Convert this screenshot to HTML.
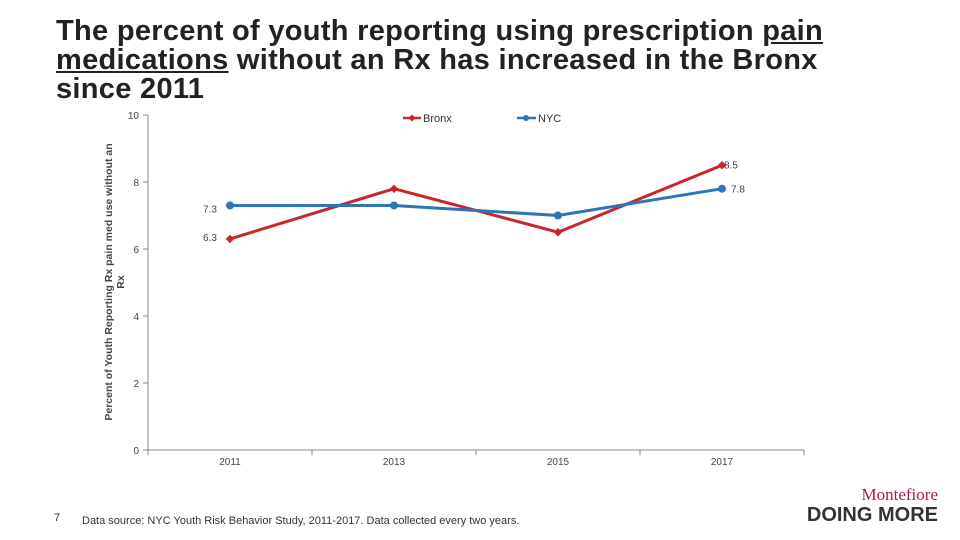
<!DOCTYPE html>
<html><head><meta charset="utf-8"><style>
body{margin:0;width:960px;height:540px;background:#fff;overflow:hidden;font-family:"Liberation Sans",sans-serif;position:relative}
#title{position:absolute;left:56px;top:17px;font-size:29px;line-height:29px;font-weight:bold;color:#222;margin:0;width:800px;letter-spacing:0.3px}
#title u{text-decoration:underline}
.abs{position:absolute}
</style></head><body>
<h1 id="title">The percent of youth reporting using prescription <u>pain medications</u> without an Rx has increased in the Bronx since 2011</h1>
<svg class="abs" style="left:0;top:0" width="960" height="540">
<g id="axes"></g>
<g id="marks"></g>
<text transform="translate(112,282) rotate(-90)" text-anchor="middle" font-size="10.5" font-weight="bold" fill="#444">Percent of Youth Reporting Rx pain med use without an</text>
<text transform="translate(124,282) rotate(-90)" text-anchor="middle" font-size="10.5" font-weight="bold" fill="#444">Rx</text>
<g><line x1="403" y1="118" x2="421" y2="118" stroke="#c8282d" stroke-width="2.5"/><rect x="409.5" y="115.5" width="5" height="5" fill="#c8282d" transform="rotate(45 412 118)"/><text x="423" y="122" font-size="11" fill="#333">Bronx</text></g>
<g><line x1="517" y1="118" x2="536" y2="118" stroke="#2e75b6" stroke-width="2.5"/><circle cx="526" cy="118" r="3" fill="#2e75b6"/><text x="538" y="122" font-size="11" fill="#333">NYC</text></g>
<text x="54" y="521" font-size="11" fill="#333">7</text>
<text x="82" y="524" font-size="11" fill="#333">Data source: NYC Youth Risk Behavior Study, 2011-2017. Data collected every two years.</text>
<text x="938" y="500" text-anchor="end" font-family="Liberation Serif,serif" font-size="17" fill="#b0185a">Montefiore</text>
<text x="938" y="521" text-anchor="end" font-size="20" font-weight="bold" fill="#333">DOING MORE</text>
</svg>
<script>
const categories=["2011","2013","2015","2017"];
const bronx=[6.3,7.8,6.5,8.5];
const nyc=[7.3,7.3,7.0,7.8];
const yTicks=[0,2,4,6,8,10];
const NS="http://www.w3.org/2000/svg";
const x=i=>230+i*164;
const y=v=>450-v*33.5;
function mk(t,a,p){const e=document.createElementNS(NS,t);for(const k in a)e.setAttribute(k,a[k]);p.appendChild(e);return e;}
const ax=document.getElementById('axes'),mg=document.getElementById('marks');
const yl=mk('line',{x1:148,y1:y(10),x2:148,y2:y(0),stroke:'#888'},ax);


const xl=mk('line',{x1:148,y1:y(0),x2:804,y2:y(0),stroke:'#888'},ax);


yTicks.forEach(t=>{
 mk('line',{x1:143,y1:y(t),x2:148,y2:y(t),stroke:'#888'},ax);
 const tx=mk('text',{x:139,y:y(t)+4,'text-anchor':'end','font-size':10,fill:'#444'},ax);tx.textContent=t;
 
 
});
categories.forEach((c,i)=>{
 mk('line',{x1:148+i*164,y1:450,x2:148+i*164,y2:455,stroke:'#888'},ax);
 const tx=mk('text',{x:x(i),y:465,'text-anchor':'middle','font-size':10,fill:'#444'},ax);tx.textContent=c;
 
 
});
mk('line',{x1:804,y1:450,x2:804,y2:455,stroke:'#888'},ax);
function series(vals,col,name,marker){
 const pl=mk('polyline',{points:vals.map((v,i)=>x(i)+','+y(v)).join(' '),fill:'none',stroke:col,'stroke-width':3},mg);
 
 
 vals.forEach((v,i)=>{
  let m;
  if(marker==='d'){m=mk('rect',{x:x(i)-3,y:y(v)-3,width:6,height:6,fill:col,transform:`rotate(45 ${x(i)} ${y(v)})`},mg);}
  else m=mk('circle',{cx:x(i),cy:y(v),r:4,fill:col},mg);
  
  
 });
}
series(bronx,'#c8282d','bronx','d');
series(nyc,'#2e75b6','nyc','c');
function lbl(v,i,dx,dy){const t=mk('text',{x:x(i)+dx,y:y(v)+dy,'font-size':10,fill:'#444'},mg);t.textContent=v.toFixed(1);
 
 }
lbl(bronx[0],0,-27,2);lbl(nyc[0],0,-27,7);lbl(bronx[3],3,2,3);lbl(nyc[3],3,9,4);
</script>
</body></html>
